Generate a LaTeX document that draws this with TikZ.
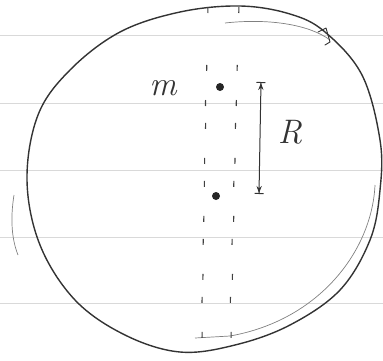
\documentclass[tikz,border=0pt]{standalone}
\usetikzlibrary{arrows.meta}
\begin{document}
\begin{tikzpicture}[x=1pt,y=-1pt,
  rule/.style={draw=black!15,line width=0.7pt},
  pen/.style={draw=black!80,line width=1.4pt,line cap=round,line join=round},
  faint/.style={draw=black!50,line width=0.7pt},
  tunnel/.style={draw=black!75,line width=1.1pt,dash pattern=on 6pt off 52pt},
  blob/.style={circle,fill=black!85,inner sep=0pt,minimum size=8pt},
  hand/.style={font=\fontsize{34}{36}\selectfont\itshape,text=black!80}]
\useasboundingbox (0,0) rectangle (383,360);
% ruled paper
\foreach \yy in {35,103,170,237,303} \draw[rule] (0,\yy) -- (383,\yy);
% earth outline
\draw[pen] plot[smooth cycle,tension=0.6] coordinates {
  (240,6) (290,14) (325,32) (362,75) (380,140) (380,190) (370,240)
  (340,290) (290,325) (235,345) (180,352) (125,335) (75,300)
  (40,245) (27,180) (38,115) (70,70) (120,32) (180,12)};
\draw[faint] (225,23) .. controls (270,18) and (310,25) .. (330,40);
\draw[faint] (375,185) .. controls (372,250) and (320,320) .. (230,336);
\draw[faint] (230,336) -- (195,338);
\draw[faint] (14,195) .. controls (10,220) and (12,240) .. (18,255);
\draw[pen,line width=0.9pt] (318,32) -- (326,28) -- (330,42) -- (325,45);
% tunnel
\draw[tunnel,dash phase=-2pt] (208,5) -- (201,352);
\draw[tunnel,dash phase=-2pt] (239,5) -- (229,348);
\draw[tunnel,dash phase=-30pt] (206,70) -- (202,340);
\draw[tunnel,dash phase=-30pt] (237,70) -- (231,340);
% masses
\node[blob] (m) at (220,87) {};
\node[blob] (c) at (216,196) {};
\node[hand] (ml) at (163,88) {m};
\coordinate (top) at (261,82);
\coordinate (bot) at (259,194);
\draw[pen,line width=1pt,{Bar[width=9pt]Stealth[length=7pt]}-{Stealth[length=7pt]Bar[width=9pt]}] (top) -- (bot);
\node[hand] (R) at (290,132) {R};
\end{tikzpicture}
\end{document}
